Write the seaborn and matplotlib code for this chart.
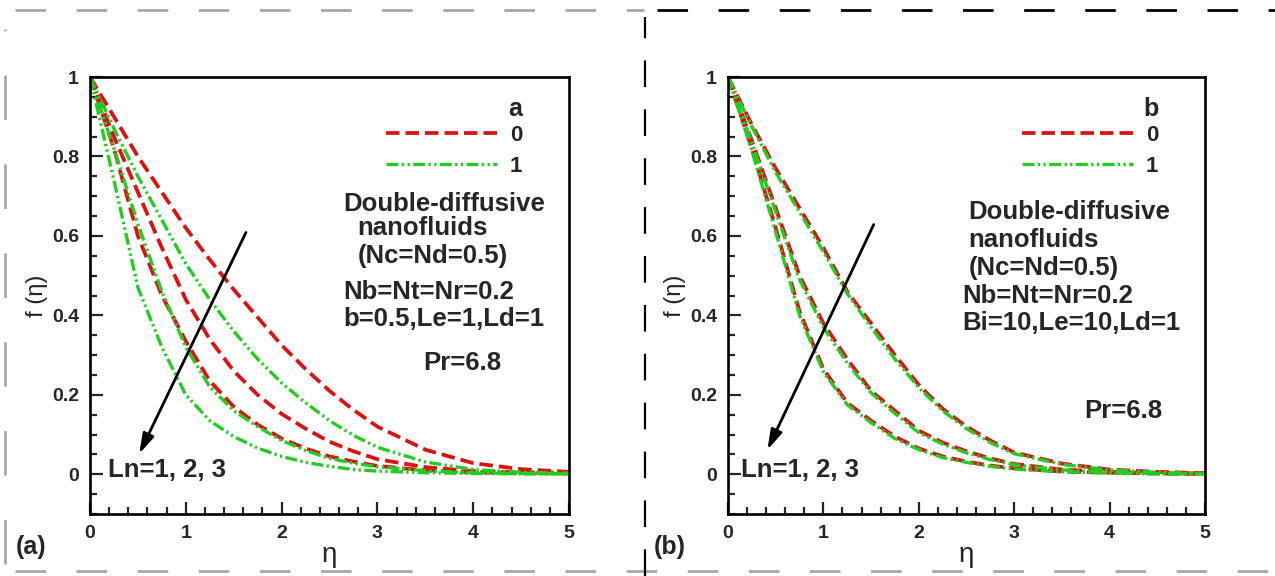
import matplotlib
matplotlib.use("Agg")
import matplotlib.pyplot as plt
from matplotlib.lines import Line2D
from matplotlib.ticker import MultipleLocator
import pandas as pd
import seaborn as sns

# eta grid
eta = [0, 0.25, 0.5, 0.75, 1, 1.25, 1.5, 1.75, 2, 2.25, 2.5, 2.75, 3, 3.5, 4, 4.5, 5]

# Panel (a): a=0 (red) and a=1 (green), Ln = 1, 2, 3
a0_ln1 = [1, 0.90, 0.80, 0.71, 0.62, 0.54, 0.465, 0.395, 0.325, 0.265, 0.21, 0.162, 0.12, 0.062, 0.028, 0.013, 0.006]
a0_ln2 = [1, 0.85, 0.71, 0.57, 0.44, 0.34, 0.26, 0.20, 0.152, 0.115, 0.082, 0.058, 0.038, 0.018, 0.008, 0.005, 0.004]
a0_ln3 = [1, 0.82, 0.60, 0.45, 0.335, 0.235, 0.17, 0.125, 0.09, 0.065, 0.045, 0.032, 0.021, 0.01, 0.005, 0.003, 0.002]
a1_ln1 = [1, 0.87, 0.75, 0.64, 0.53, 0.44, 0.36, 0.29, 0.23, 0.18, 0.135, 0.098, 0.068, 0.031, 0.012, 0.005, 0.003]
a1_ln2 = [1, 0.82, 0.63, 0.46, 0.32, 0.22, 0.16, 0.12, 0.085, 0.06, 0.04, 0.028, 0.019, 0.009, 0.004, 0.002, 0.002]
a1_ln3 = [1, 0.74, 0.47, 0.32, 0.20, 0.135, 0.095, 0.066, 0.045, 0.03, 0.02, 0.012, 0.008, 0.004, 0.002, 0.001, 0.001]

# Panel (b): b=0 (red) and b=1 (green), Ln = 1, 2, 3
b0_ln1 = [1, 0.88, 0.77, 0.67, 0.57, 0.46, 0.38, 0.30, 0.225, 0.165, 0.12, 0.085, 0.055, 0.027, 0.012, 0.006, 0.003]
b0_ln2 = [1, 0.84, 0.67, 0.50, 0.38, 0.29, 0.21, 0.16, 0.11, 0.08, 0.058, 0.04, 0.026, 0.012, 0.006, 0.003, 0.002]
b0_ln3 = [1, 0.82, 0.62, 0.41, 0.265, 0.18, 0.135, 0.095, 0.065, 0.045, 0.032, 0.022, 0.015, 0.007, 0.004, 0.002, 0.001]
b1_ln1 = [1, 0.875, 0.76, 0.66, 0.56, 0.455, 0.37, 0.29, 0.218, 0.16, 0.115, 0.08, 0.052, 0.025, 0.011, 0.005, 0.002]
b1_ln2 = [1, 0.835, 0.66, 0.49, 0.37, 0.28, 0.205, 0.153, 0.105, 0.076, 0.054, 0.037, 0.024, 0.011, 0.005, 0.002, 0.001]
b1_ln3 = [1, 0.815, 0.61, 0.40, 0.258, 0.175, 0.13, 0.09, 0.062, 0.042, 0.03, 0.02, 0.013, 0.006, 0.003, 0.001, 0.001]

param_labels = ["0", "1"]
RED = "#dd1111"
GREEN = "#22cc22"
red_dash = (3.6, 1.6)
green_dash = (3.6, 1.0, 0.7, 1.0, 0.7, 1.0)


def long_frame(series):
    rows = []
    for (val, ln), ys in series.items():
        for x, y in zip(eta, ys):
            rows.append({"eta": x, "f": y, "p": val, "Ln": ln})
    return pd.DataFrame(rows)


df_a = long_frame({("0", 1): a0_ln1, ("0", 2): a0_ln2, ("0", 3): a0_ln3,
                   ("1", 1): a1_ln1, ("1", 2): a1_ln2, ("1", 3): a1_ln3})
df_b = long_frame({("0", 1): b0_ln1, ("0", 2): b0_ln2, ("0", 3): b0_ln3,
                   ("1", 1): b1_ln1, ("1", 2): b1_ln2, ("1", 3): b1_ln3})

sns.set_style("white")
plt.rcParams["font.family"] = ["Liberation Sans", "DejaVu Sans"]

fig = plt.figure(figsize=(12.75, 5.76), dpi=100)
ax_a = fig.add_axes([0.0706, 0.1076, 0.3757, 0.7587])
ax_b = fig.add_axes([0.571, 0.1076, 0.374, 0.7587])

FS = 18.5


def draw_panel(ax, df, letter, notes, pr_pos, text_x, ln_x, arrow):
    sns.lineplot(data=df[df.p == "0"], x="eta", y="f", units="Ln", estimator=None,
                 color=RED, lw=2.7, dashes=False, ax=ax, legend=False)
    sns.lineplot(data=df[df.p == "1"], x="eta", y="f", units="Ln", estimator=None,
                 color=GREEN, lw=2.4, dashes=False, ax=ax, legend=False)
    lines = ax.get_lines()
    for ln in lines[:3]:
        ln.set_dashes(red_dash)
    for ln in lines[3:6]:
        ln.set_dashes(green_dash)

    ax.set_xlim(0, 5)
    ax.set_ylim(-0.1, 1)
    ax.xaxis.set_major_locator(MultipleLocator(1))
    ax.xaxis.set_minor_locator(MultipleLocator(0.2))
    ax.yaxis.set_major_locator(MultipleLocator(0.2))
    ax.yaxis.set_minor_locator(MultipleLocator(0.05))
    ax.set_yticks([0, 0.2, 0.4, 0.6, 0.8, 1])
    ax.set_yticklabels(["0", "0.2", "0.4", "0.6", "0.8", "1"])
    ax.tick_params(which="both", direction="in", left=True, bottom=True,
                   top=False, right=False, labelsize=14, width=1.6, pad=8)
    ax.tick_params(which="major", length=9)
    ax.tick_params(which="minor", length=5)
    for lab in ax.get_xticklabels() + ax.get_yticklabels():
        lab.set_fontweight("bold")
    for sp in ax.spines.values():
        sp.set_linewidth(1.9)
        sp.set_color("black")
    ax.set_xlabel("η", fontsize=20, labelpad=0)
    ax.set_ylabel("f (η)", fontsize=17, labelpad=3)

    handles = [Line2D([], [], color=RED, lw=2.7, dashes=red_dash),
               Line2D([], [], color=GREEN, lw=2.4, dashes=green_dash)]
    leg = ax.legend(handles, param_labels, title=letter, loc="upper right",
                    bbox_to_anchor=(0.935, 0.99), frameon=False, handlelength=5.0,
                    handletextpad=0.6, labelspacing=0.45, alignment="right",
                    borderpad=0.2, prop={"size": 16, "weight": "bold"},
                    title_fontproperties={"size": 18, "weight": "bold"})
    leg._legend_box.sep = 3

    for (tx, ty), txt in zip(text_x, notes):
        ax.text(tx, ty, txt, fontsize=FS, fontweight="bold", va="center", ha="left")
    ax.text(pr_pos[0], pr_pos[1], "Pr=6.8", fontsize=FS, fontweight="bold", va="center")
    ax.text(ln_x, 0.01, "Ln=1, 2, 3", fontsize=FS, fontweight="bold", va="center")
    ax.annotate("", xy=arrow[1], xytext=arrow[0],
                arrowprops=dict(arrowstyle="-|>,head_length=1.2,head_width=0.35",
                                color="black", lw=2))


draw_panel(ax_a, df_a, "a",
           ["Double-diffusive", "nanofluids", "(Nc=Nd=0.5)", "Nb=Nt=Nr=0.2", "b=0.5,Le=1,Ld=1"],
           (3.48, 0.28),
           [(2.64, 0.68), (2.79, 0.62), (2.79, 0.55), (2.64, 0.46), (2.64, 0.39)],
           0.19,
           ((1.64, 0.615), (0.50, 0.045)))
draw_panel(ax_b, df_b, "b",
           ["Double-diffusive", "nanofluids", "(Nc=Nd=0.5)", "Nb=Nt=Nr=0.2", "Bi=10,Le=10,Ld=1"],
           (3.74, 0.16),
           [(2.52, 0.66), (2.52, 0.59), (2.52, 0.52), (2.46, 0.45), (2.46, 0.38)],
           0.14,
           ((1.54, 0.635), (0.40, 0.055)))

fig.text(0.012, 0.038, "(a)", fontsize=18, fontweight="bold")
fig.text(0.513, 0.038, "(b)", fontsize=18, fontweight="bold")

# dashed page frame around the two panels
grey = "#a8a8a8"
fig.add_artist(Line2D([0.012, 0.505], [0.983, 0.983], color=grey, lw=2, dashes=(11, 11)))
fig.add_artist(Line2D([0.515, 1.0], [0.983, 0.983], color="black", lw=2, dashes=(11, 11)))
fig.add_artist(Line2D([0.012, 1.0], [0.008, 0.008], color=grey, lw=2, dashes=(11, 11)))
fig.add_artist(Line2D([0.004, 0.004], [0.02, 0.95], color=grey, lw=2, dashes=(16, 16)))
fig.add_artist(Line2D([0.506, 0.506], [0.0, 0.97], color="black", lw=1.6, dashes=(12, 10)))

fig.savefig("out.png", dpi=100)
